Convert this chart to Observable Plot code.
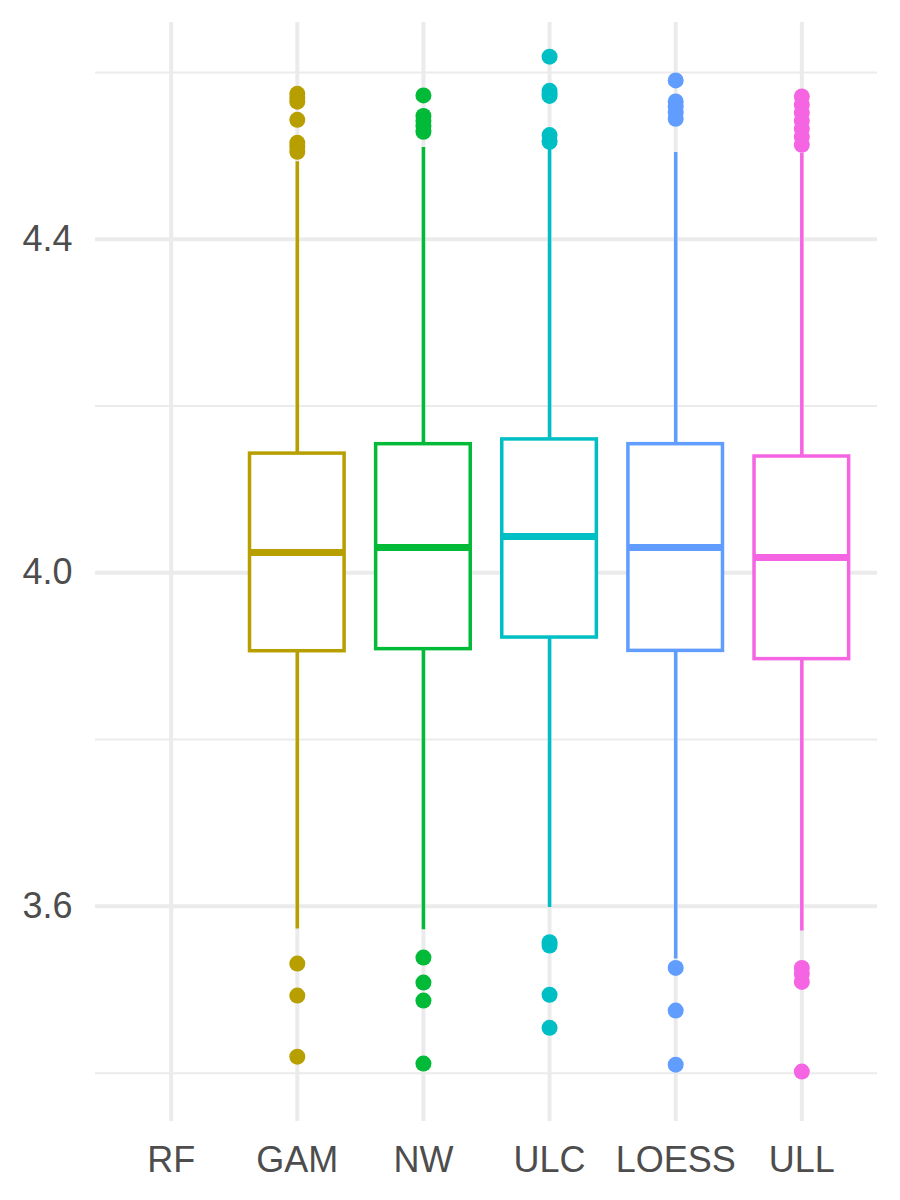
<!DOCTYPE html>
<html>
<head>
<meta charset="utf-8">
<script src="https://cdn.jsdelivr.net/npm/d3@7"></script>
<script src="https://cdn.jsdelivr.net/npm/@observablehq/plot@0.6"></script>
<style>
  html, body { margin: 0; padding: 0; background: #ffffff; }
  #chart { width: 900px; height: 1200px; }
</style>
</head>
<body>
<div id="chart"></div>
<script>
// Categories on the x axis (RF has no data)
const categories = ["RF", "GAM", "NW", "ULC", "LOESS", "ULL"];
const colors = ["#F8766D", "#B79F00", "#00BA38", "#00BFC4", "#619CFF", "#F564E3"];

// Box statistics per method
const methods = ["GAM", "NW", "ULC", "LOESS", "ULL"];
const whiskerLow = [3.573, 3.572, 3.5986, 3.537, 3.5706];
const q1 = [3.906, 3.9085, 3.9224, 3.9064, 3.8965];
const medians = [4.0243, 4.0304, 4.0435, 4.0304, 4.0184];
const q3 = [4.143, 4.1543, 4.160, 4.1543, 4.1395];
const whiskerHigh = [4.493, 4.510, 4.508, 4.504, 4.503];

// Outliers per method
const outliersGAM = [4.5745, 4.5697, 4.565, 4.5433, 4.5157, 4.511, 4.505, 3.5314, 3.4930, 3.4198];
const outliersNW = [4.5725, 4.548, 4.542, 4.536, 4.529, 3.5386, 3.5086, 3.4870, 3.4115];
const outliersULC = [4.619, 4.578, 4.575, 4.572, 4.525, 4.517, 3.557, 3.553, 3.494, 3.4543];
const outliersLOESS = [4.5905, 4.5653, 4.559, 4.552, 4.5445, 3.5262, 3.475, 3.4101];
const outliersULL = [4.5713, 4.5613, 4.5517, 4.5421, 4.5325, 4.5229, 4.5133, 3.5262, 3.519, 3.5094, 3.4019];

// Axis ticks and gridlines
const majorTicks = [3.6, 4.0, 4.4];
const minorTicks = [3.4, 3.8, 4.2, 4.6];
const yDomain = [3.342, 4.66];

// Build tables
const boxes = methods.map((m, i) => ({
  method: m, lo: whiskerLow[i], q1: q1[i], med: medians[i], q3: q3[i], hi: whiskerHigh[i]
}));
const outlierLists = [outliersGAM, outliersNW, outliersULC, outliersLOESS, outliersULL];
const outliers = methods.flatMap((m, i) => outlierLists[i].map(v => ({method: m, value: v})));

const chart = Plot.plot({
  width: 900,
  height: 1200,
  marginLeft: 95,
  marginRight: 23,
  marginTop: 22,
  marginBottom: 79,
  style: {
    fontFamily: "'Liberation Sans', Arial, sans-serif",
    fontSize: "36px",
    color: "#4D4D4D",
    background: "#ffffff"
  },
  x: {
    type: "band",
    domain: categories,
    paddingInner: 0.25,
    paddingOuter: 0.225,
    round: false,
    tickSize: 0,
    tickPadding: 25,
    label: null
  },
  y: {
    domain: yDomain,
    ticks: majorTicks,
    tickFormat: d => d.toFixed(1),
    tickSize: 0,
    tickPadding: 23,
    label: null
  },
  color: { domain: categories, range: colors, legend: false },
  marks: [
    Plot.ruleY(minorTicks, { y: d => d, stroke: "#EBEBEB", strokeWidth: 2 }),
    Plot.ruleY(majorTicks, { y: d => d, stroke: "#EBEBEB", strokeWidth: 4 }),
    Plot.ruleX(categories, { x: d => d, stroke: "#EBEBEB", strokeWidth: 4 }),
    Plot.ruleX(boxes, { x: "method", y1: "lo", y2: "hi", stroke: "method", strokeWidth: 3.5 }),
    Plot.barY(boxes, { x: "method", y1: "q1", y2: "q3", fill: "#ffffff", stroke: "method", strokeWidth: 3.5 }),
    Plot.tickY(boxes, { x: "method", y: "med", stroke: "method", strokeWidth: 7 }),
    Plot.dot(outliers, { x: "method", y: "value", fill: "method", r: 8, stroke: "none" })
  ]
});
document.getElementById("chart").appendChild(chart);
</script>
</body>
</html>
